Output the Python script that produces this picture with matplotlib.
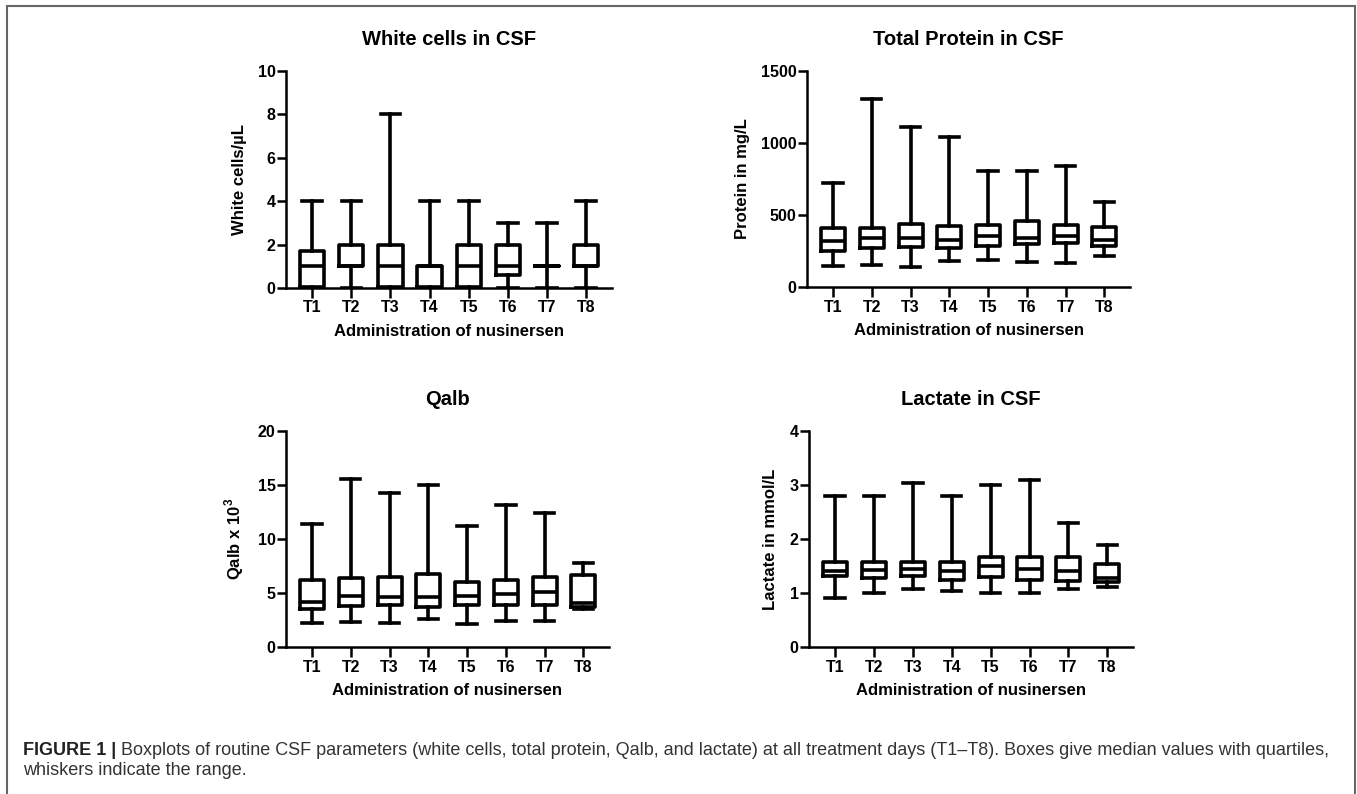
import matplotlib
matplotlib.use('Agg')
import matplotlib.pyplot as plt
from matplotlib.patches import Rectangle

plt.rcParams['font.family'] = ['Liberation Sans', 'DejaVu Sans']
plt.rcParams['mathtext.fontset'] = 'custom'
plt.rcParams['mathtext.rm'] = 'Liberation Sans'
plt.rcParams['mathtext.bf'] = 'Liberation Sans:bold'

days = ['T1', 'T2', 'T3', 'T4', 'T5', 'T6', 'T7', 'T8']

# white cells / uL : min, q1, median, q3, max
wc_min = [0, 0, 0, 0, 0, 0, 0, 0]
wc_q1 = [0.05, 1, 0.05, 0.05, 0.05, 0.6, 1, 1]
wc_med = [1, 1, 1, 1, 1, 1, 1, 1]
wc_q3 = [1.7, 2, 2, 1, 2, 2, 1, 2]
wc_max = [4, 4, 8, 4, 4, 3, 3, 4]

# total protein mg/L
tp_min = [146, 151, 139, 179, 185, 174, 169, 216]
tp_q1 = [250, 274, 278, 274, 288, 299, 308, 288]
tp_med = [318, 343, 339, 325, 357, 341, 357, 325]
tp_q3 = [410, 410, 440, 424, 429, 457, 429, 420]
tp_max = [719, 1305, 1113, 1043, 809, 809, 842, 591]

# Qalb x 10^3
qa_min = [2.2, 2.3, 2.2, 2.6, 2.1, 2.4, 2.4, 3.5]
qa_q1 = [3.5, 3.8, 3.9, 3.7, 3.85, 3.9, 3.9, 3.7]
qa_med = [4.2, 4.7, 4.6, 4.65, 4.7, 4.95, 5.05, 4.05]
qa_q3 = [6.25, 6.35, 6.45, 6.8, 6.05, 6.25, 6.5, 6.7]
qa_max = [11.4, 15.6, 14.3, 15.0, 11.2, 13.15, 12.45, 7.8]

# lactate mmol/L
la_min = [0.9, 1.0, 1.08, 1.03, 1.0, 1.0, 1.08, 1.12]
la_q1 = [1.32, 1.28, 1.32, 1.25, 1.29, 1.25, 1.23, 1.21]
la_med = [1.41, 1.42, 1.44, 1.41, 1.5, 1.44, 1.41, 1.28]
la_q3 = [1.57, 1.58, 1.57, 1.57, 1.66, 1.66, 1.66, 1.53]
la_max = [2.8, 2.8, 3.04, 2.8, 3.0, 3.09, 2.29, 1.89]

panels = [
    ('White cells in CSF', 'White cells/µL', [0, 2, 4, 6, 8, 10],
     wc_min, wc_q1, wc_med, wc_q3, wc_max),
    ('Total Protein in CSF', 'Protein in mg/L', [0, 500, 1000, 1500],
     tp_min, tp_q1, tp_med, tp_q3, tp_max),
    ('Qalb', r'Qalb x 10$^{\mathbf{3}}$', [0, 5, 10, 15, 20],
     qa_min, qa_q1, qa_med, qa_q3, qa_max),
    ('Lactate in CSF', 'Lactate in mmol/L', [0, 1, 2, 3, 4],
     la_min, la_q1, la_med, la_q3, la_max),
]

W, H = 1357, 794
fig = plt.figure(figsize=(W / 100, H / 100), dpi=100)

# pixel boxes (left, top, right, bottom)
boxes_px = [(286, 71, 612, 288), (807, 71, 1130, 287),
            (286, 431, 609, 647), (809, 431, 1133, 647)]

lw = 2.6
for (title, ylab, yt, lo, q1, med, q3, hi), (l, t, r, b) in zip(panels, boxes_px):
    ax = fig.add_axes([l / W, 1 - b / H, (r - l) / W, (b - t) / H])
    stats = []
    for i in range(len(days)):
        stats.append(dict(whislo=lo[i], q1=q1[i], med=med[i], q3=q3[i],
                          whishi=hi[i], fliers=[], label=days[i]))
    props = dict(color='black', linewidth=lw)
    ax.bxp(stats, positions=range(1, 9), widths=0.62, capwidths=0.5,
           showfliers=False, boxprops=props, whiskerprops=props,
           capprops=props, medianprops=props)
    ax.set_xlim(0.33, 8.66)
    ax.set_ylim(yt[0], yt[-1])
    ax.set_yticks(yt)
    ax.set_xticks(range(1, 9))
    ax.set_xticklabels(days)
    for s in ['top', 'right']:
        ax.spines[s].set_visible(False)
    for s in ['left', 'bottom']:
        ax.spines[s].set_linewidth(1.8)
    ax.tick_params(axis='x', length=7, width=1.8, pad=2, labelsize=11.5)
    ax.tick_params(axis='y', length=6.5, width=1.8, pad=1, labelsize=11.5)
    for lab in ax.get_xticklabels() + ax.get_yticklabels():
        lab.set_fontweight('bold')
    ax.set_title(title, fontsize=14.5, fontweight='bold', pad=19)
    ax.set_ylabel(ylab, fontsize=12, fontweight='bold', labelpad=8)
    ax.set_xlabel('Administration of nusinersen', fontsize=12,
                  fontweight='bold', labelpad=6)

# frame around figure + caption
fig.patches.append(Rectangle((7 / W, -0.02), (1355 - 7) / W, 1.02 - 6 / H,
                             transform=fig.transFigure, fill=False,
                             edgecolor='#666666', linewidth=1.5))

cap_col = '#333333'
x0 = 23 / W
t1 = fig.text(x0, 1 - 755 / H, 'FIGURE 1 |', fontsize=13, fontweight='bold',
              color='#222222', va='baseline')
fig.canvas.draw()
bb = t1.get_window_extent(fig.canvas.get_renderer())
fig.text(bb.x1 / W, 1 - 755 / H,
         ' Boxplots of routine CSF parameters (white cells, total protein, Qalb, '
         'and lactate) at all treatment days (T1\u2013T8). Boxes give median values '
         'with quartiles,', fontsize=13, color=cap_col, va='baseline')
fig.text(x0, 1 - 775 / H, 'whiskers indicate the range.', fontsize=13,
         color=cap_col, va='baseline')

fig.savefig('out.png', dpi=100)
